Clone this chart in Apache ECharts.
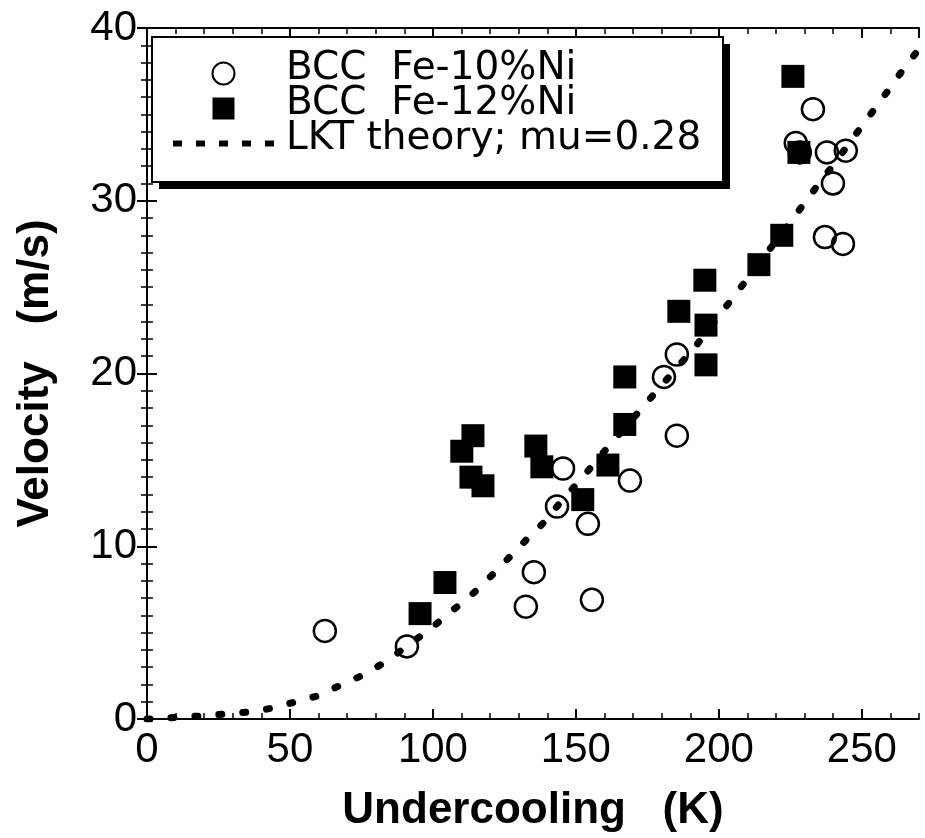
<!DOCTYPE html>
<html>
<head>
<meta charset="utf-8">
<script src="https://cdn.jsdelivr.net/npm/echarts@6/dist/echarts.min.js"></script>
<style>
  html, body { margin: 0; padding: 0; background: #fff; }
  #chart { width: 925px; height: 838px; }
</style>
</head>
<body>
<div id="chart"></div>
<script>
// BCC Fe-10%Ni (open circles)
const fe10X = [62.2, 90.9, 132.5, 135.3, 155.6, 143.4, 145.5, 154.2, 168.9, 185.3,
  180.8, 185.3, 226.9, 228.3, 232.9, 237.8, 244.4, 239.9, 237.1, 243.4];
const fe10Y = [5.1, 4.2, 6.5, 8.5, 6.9, 12.3, 14.5, 11.3, 13.8, 16.4,
  19.8, 21.1, 33.35, 32.8, 35.3, 32.8, 32.9, 31.0, 27.9, 27.5];
// BCC Fe-12%Ni (filled squares)
const fe12X = [95.5, 104.2, 110.1, 114.0, 113.3, 117.5, 136.0, 138.1, 152.4, 161.2,
  167.1, 167.1, 186.0, 195.1, 195.5, 195.5, 214.0, 222.0, 225.9, 228.0];
const fe12Y = [6.1, 7.9, 15.5, 16.4, 14.0, 13.5, 15.8, 14.6, 12.7, 14.7,
  17.05, 19.8, 23.6, 25.4, 22.8, 20.5, 26.3, 28.0, 37.2, 32.8];
// LKT theory curve
const lktX = [0, 3.5, 11.5, 19.6, 27.3, 35.7, 44.1, 51.7, 59.4, 67.1, 75.5, 83.9, 90.9,
  99.0, 107.0, 115.4, 122.4, 130.4, 138.5, 145.5, 152.4, 158.4, 172.4, 179.4, 185.7,
  192.0, 204.5, 210.5, 228.3, 233.9, 240.6, 251.7, 257.3, 263.6, 268.9];
const lktY = [0, 0.0, 0.12, 0.17, 0.29, 0.40, 0.64, 0.98, 1.33, 1.91, 2.54, 3.35, 4.22,
  5.20, 6.30, 7.46, 8.61, 10.0, 11.33, 12.72, 13.99, 15.2, 17.86, 19.2, 20.4,
  21.6, 24.3, 25.6, 29.5, 30.75, 32.2, 34.7, 35.95, 37.4, 38.55];

const names = ['BCC  Fe-10%Ni', 'BCC  Fe-12%Ni', 'LKT theory; mu=0.28'];

const zip = (xs, ys) => xs.map((x, i) => [x, ys[i]]);

const chart = echarts.init(document.getElementById('chart'));

const axisBase = {
  type: 'value',
  axisLine: { show: true, lineStyle: { color: '#000', width: 2 } },
  splitLine: { show: false }
};

chart.setOption({
  animation: false,
  backgroundColor: '#fff',
  grid: { left: 147, right: 6, top: 28, bottom: 118 },
  // legend frame with its solid drop shadow
  graphic: [
    { type: 'rect', z: 8, shape: { x: 159, y: 44, width: 571, height: 145 }, style: { fill: '#000' } },
    { type: 'rect', z: 9, shape: { x: 152, y: 37, width: 571, height: 145 },
      style: { fill: '#fff', stroke: '#000', lineWidth: 2 } }
  ],
  legend: {
    z: 10,
    orient: 'vertical',
    left: 170,
    top: 49,
    padding: 0,
    itemWidth: 101,
    itemHeight: 22,
    itemGap: -4,
    selectedMode: false,
    formatter: name => '{t|' + name + '}',
    textStyle: {
      fontFamily: 'DejaVu Sans', fontSize: 39, color: '#000',
      rich: {
        t: { fontFamily: 'DejaVu Sans', fontSize: 39, color: '#000', padding: [0, 0, 10, 7] }
      }
    },
    data: [
      { name: names[0], icon: 'circle' },
      { name: names[1], icon: 'path://M0 0H10V10H0Z' },
      { name: names[2], itemStyle: { opacity: 0 },
        lineStyle: { type: [9, 14], width: 6, cap: 'butt', color: '#000' } }
    ]
  },
  xAxis: [
    Object.assign({}, axisBase, {
      position: 'bottom', min: 0, max: 270, interval: 50,
      axisTick: { inside: true, length: 10, lineStyle: { color: '#000', width: 2 } },
      axisLabel: {
        margin: 10, showMaxLabel: false, color: '#000',
        fontFamily: 'Liberation Sans', fontSize: 42
      },
      name: 'Undercooling   (K)',
      nameLocation: 'middle',
      nameGap: 70,
      nameTextStyle: { fontFamily: 'Liberation Sans', fontWeight: 'bold', fontSize: 44, color: '#000' }
    }),
    Object.assign({}, axisBase, {
      position: 'bottom', min: 0, max: 270, interval: 10,
      axisLine: { show: false },
      axisTick: { inside: true, length: 6, lineStyle: { color: '#000', width: 1.5 } },
      axisLabel: { show: false }
    }),
    Object.assign({}, axisBase, {
      position: 'top', min: 0, max: 270, interval: 50,
      axisTick: { inside: true, length: 10, lineStyle: { color: '#000', width: 2 } },
      axisLabel: { show: false }
    }),
    Object.assign({}, axisBase, {
      position: 'top', min: 0, max: 270, interval: 10,
      axisLine: { show: false },
      axisTick: { inside: true, length: 6, lineStyle: { color: '#000', width: 1.5 } },
      axisLabel: { show: false }
    })
  ],
  yAxis: [
    Object.assign({}, axisBase, {
      position: 'left', min: 0, max: 40, interval: 10,
      axisTick: { inside: true, length: 10, lineStyle: { color: '#000', width: 2 } },
      minorTick: { show: true, splitNumber: 10, length: 6, lineStyle: { color: '#000', width: 1.5 } },
      axisLabel: {
        margin: 10, color: '#000',
        fontFamily: 'Liberation Sans', fontSize: 42
      },
      name: 'Velocity   (m/s)',
      nameLocation: 'middle',
      nameGap: 89,
      nameTextStyle: { fontFamily: 'Liberation Sans', fontWeight: 'bold', fontSize: 44, color: '#000' }
    }),
    Object.assign({}, axisBase, {
      position: 'right', min: 0, max: 40, interval: 10,
      axisTick: { inside: true, length: 10, lineStyle: { color: '#000', width: 2 } },
      minorTick: { show: true, splitNumber: 10, length: 6, lineStyle: { color: '#000', width: 1.5 } },
      axisLabel: { show: false }
    })
  ],
  series: [
    {
      name: names[0],
      type: 'scatter',
      symbol: 'circle',
      symbolSize: 22,
      z: 2,
      itemStyle: { color: 'rgba(0,0,0,0)', borderColor: '#000', borderWidth: 2.5, opacity: 1 },
      emphasis: { disabled: true },
      data: zip(fe10X, fe10Y)
    },
    {
      name: names[2],
      type: 'line',
      symbol: 'none',
      showSymbol: false,
      z: 3,
      itemStyle: { color: '#000' },
      lineStyle: { color: '#000', width: 7, type: [3, 21], cap: 'round' },
      emphasis: { disabled: true },
      data: zip(lktX, lktY)
    },
    {
      name: names[1],
      type: 'scatter',
      symbol: 'rect',
      symbolSize: 23,
      z: 4,
      itemStyle: { color: '#000', opacity: 1 },
      emphasis: { disabled: true },
      data: zip(fe12X, fe12Y)
    }
  ]
});
</script>
</body>
</html>
